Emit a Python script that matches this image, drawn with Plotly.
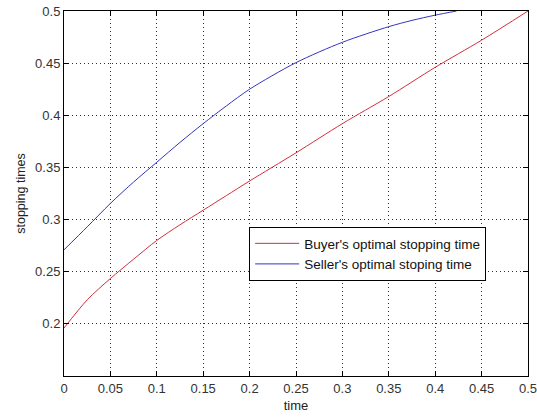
import plotly.graph_objects as go

t_buyer = [0, 0.025, 0.05, 0.075, 0.1, 0.125, 0.15, 0.175, 0.2, 0.25, 0.3, 0.35, 0.4, 0.45, 0.5]
buyer = [0.196, 0.223, 0.2435, 0.262, 0.28, 0.295, 0.309, 0.323, 0.337, 0.364, 0.392, 0.418, 0.446, 0.472, 0.5]

t_seller = [0, 0.025, 0.05, 0.075, 0.1, 0.125, 0.15, 0.175, 0.2, 0.25, 0.3, 0.35, 0.375, 0.4, 0.423]
seller = [0.271, 0.293, 0.3155, 0.336, 0.355, 0.374, 0.392, 0.409, 0.425, 0.4505, 0.47, 0.485, 0.491, 0.496, 0.5]

x_ticks = [0, 0.05, 0.1, 0.15, 0.2, 0.25, 0.3, 0.35, 0.4, 0.45, 0.5]
x_labels = ["0", "0.05", "0.1", "0.15", "0.2", "0.25", "0.3", "0.35", "0.4", "0.45", "0.5"]
y_ticks = [0.2, 0.25, 0.3, 0.35, 0.4, 0.45, 0.5]
y_labels = ["0.2", "0.25", "0.3", "0.35", "0.4", "0.45", "0.5"]

fig = go.Figure()
fig.add_trace(go.Scatter(x=t_buyer, y=buyer, mode="lines", line=dict(color="#d0303a", width=1, shape="spline", smoothing=0.8),
                         name="Buyer's optimal stopping time"))
fig.add_trace(go.Scatter(x=t_seller, y=seller, mode="lines", line=dict(color="#3434c0", width=1, shape="spline", smoothing=0.8),
                         name="Seller's optimal stoping time"))

font = dict(family="Liberation Sans, Arial, sans-serif", size=13, color="#333")
axis_common = dict(showline=True, linecolor="black", linewidth=1, mirror="ticks",
                   ticks="inside", ticklen=5, tickcolor="black",
                   showgrid=True, gridcolor="#333", griddash="1px,3px", gridwidth=1,
                   zeroline=False, tickfont=font, automargin=False, ticklabeloverflow="allow")

fig.update_layout(
    width=537, height=418,
    margin=dict(l=64, r=9, t=11, b=42),
    paper_bgcolor="white", plot_bgcolor="white",
    font=font,
    showlegend=True,
    legend=dict(x=0.399, y=0.408, xanchor="left", yanchor="top",
                bgcolor="white", bordercolor="black", borderwidth=1,
                font=dict(family="Liberation Sans, Arial, sans-serif", size=13.5, color="#111"),
                tracegroupgap=0, itemwidth=44),
    xaxis=dict(range=[0, 0.5], tickvals=x_ticks, ticktext=x_labels,
               title=dict(text="time", font=dict(size=13, color="#222"), standoff=6), **axis_common),
    yaxis=dict(range=[0.15, 0.5], tickvals=y_ticks, ticktext=y_labels,
               title=dict(text="stopping times", font=dict(size=12.5, color="#222"), standoff=6), **axis_common),
)

fig.write_html("out.html")
